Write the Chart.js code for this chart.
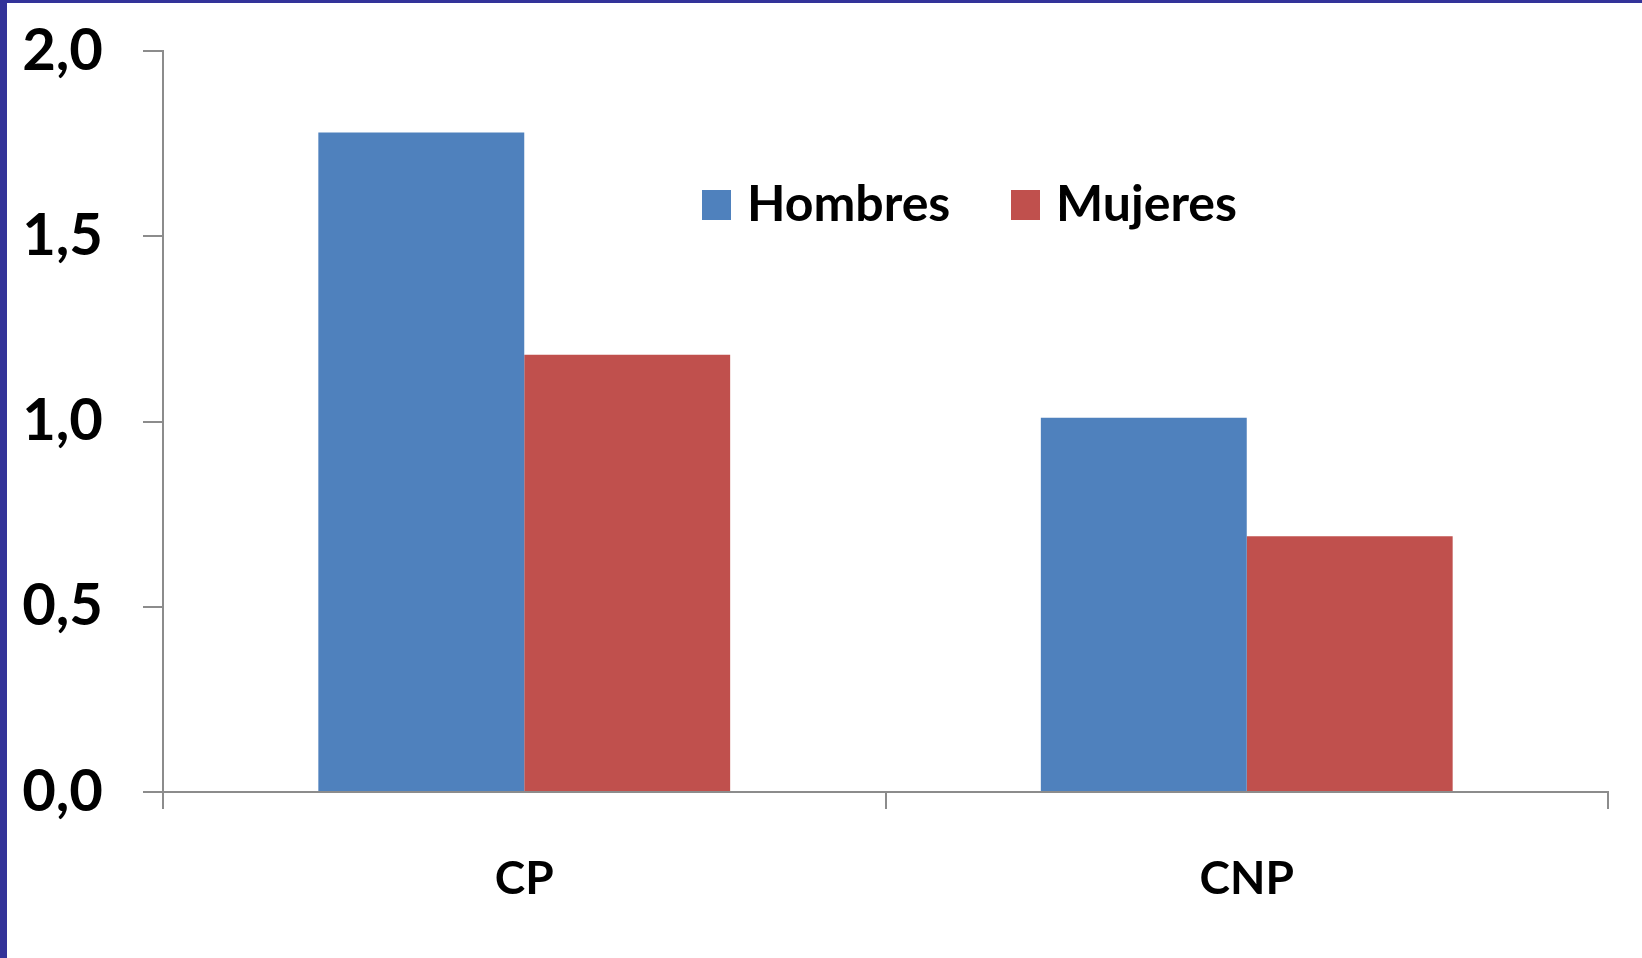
<!DOCTYPE html>
<html>
<head>
<meta charset="utf-8">
<script src="https://cdn.jsdelivr.net/npm/chart.js@4/dist/chart.umd.min.js"></script>
<style>
  html, body { margin: 0; padding: 0; background: #fff; }
  #wrap { position: relative; width: 1642px; height: 958px; overflow: hidden; }
  #frameLeft { position: absolute; left: 0; top: 0; width: 7px; height: 958px; background: #333399; }
  #frameTop { position: absolute; left: 0; top: 0; width: 1642px; height: 3px; background: #333399; }
  .box { position: absolute; top: 190px; width: 29px; height: 30px; }
  .label { position: absolute; top: 172px; font-family: Lato, sans-serif; font-weight: bold; font-size: 50px; line-height: 1.2; color: #000; white-space: nowrap; }
</style>
</head>
<body>
<div id="wrap">
  <canvas id="barChart" width="1642" height="958"></canvas>
  <div id="frameLeft"></div>
  <div id="frameTop"></div>
  <div id="legend"></div>
</div>
<script>
// Data
const categories = ['CP', 'CNP'];
const hombres = [1.78, 1.01];
const mujeres = [1.18, 0.69];
const seriesNames = ['Hombres', 'Mujeres'];
const seriesColors = ['#4F81BD', '#C0504D'];

const axisGray = '#8C8C8C';

// HTML legend placed over the plot area
const legendEl = document.getElementById('legend');
const legendLeft = [702, 1011];
seriesNames.forEach(function (name, i) {
    const box = document.createElement('div');
    box.className = 'box';
    box.style.left = legendLeft[i] + 'px';
    box.style.background = seriesColors[i];
    legendEl.appendChild(box);

    const txt = document.createElement('div');
    txt.className = 'label';
    txt.style.left = (legendLeft[i] + 45) + 'px';
    txt.textContent = name;
    legendEl.appendChild(txt);
});

const ctx = document.getElementById('barChart').getContext('2d');
const barChart = new Chart(ctx, {
    type: 'bar',
    data: {
        labels: categories,
        datasets: [
            { label: seriesNames[0], data: hombres, backgroundColor: seriesColors[0] },
            { label: seriesNames[1], data: mujeres, backgroundColor: seriesColors[1] }
        ]
    },
    options: {
        responsive: false,
        animation: false,
        layout: { padding: { top: 51, right: 34, bottom: 0, left: 0 } },
        datasets: {
            bar: { categoryPercentage: 0.57, barPercentage: 1.0, borderWidth: 0 }
        },
        scales: {
            x: {
                grid: { drawOnChartArea: false, drawTicks: true, tickLength: 17, color: axisGray, lineWidth: 2, offset: true },
                border: { display: true, color: axisGray, width: 2 },
                ticks: {
                    color: '#000',
                    padding: 43,
                    font: { family: 'Lato', size: 46, weight: 'bold' }
                },
                afterFit: function (axis) { axis.height = 166; }
            },
            y: {
                min: 0,
                max: 2,
                grid: { drawOnChartArea: false, drawTicks: true, tickLength: 20, color: axisGray, lineWidth: 2 },
                border: { display: true, color: axisGray, width: 2 },
                ticks: {
                    stepSize: 0.5,
                    color: '#000',
                    padding: 40,
                    font: { family: 'Lato', size: 58, weight: 'bold' },
                    callback: function (v) { return v.toFixed(1).replace('.', ','); }
                },
                afterFit: function (axis) {
                    axis.width = 163;
                    axis.paddingTop = 0;
                    axis.paddingBottom = 0;
                }
            }
        },
        plugins: {
            legend: { display: false },
            tooltip: { enabled: false }
        }
    }
});
</script>
</body>
</html>
